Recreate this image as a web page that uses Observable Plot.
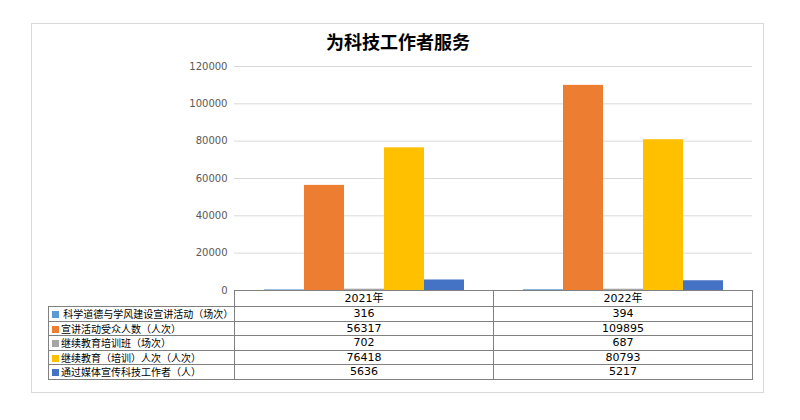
<!DOCTYPE html>
<html>
<head>
<meta charset="utf-8">
<script src="https://cdn.jsdelivr.net/npm/d3@7"></script>
<script src="https://cdn.jsdelivr.net/npm/@observablehq/plot@0.6"></script>
<style>
  html, body { margin: 0; padding: 0; background: #fff; }
  body { width: 800px; height: 420px; position: relative; overflow: hidden; font-family: "DejaVu Sans", "Noto Sans CJK SC", sans-serif; }
  #frame { position: absolute; left: 31px; top: 23px; width: 731px; height: 368px; border: 1px solid #d9d9d9; }
  #title { position: absolute; left: 0; width: 796px; top: 28px; text-align: center; font: bold 18px "Noto Sans CJK SC", sans-serif; color: #000; }
  #chart { position: absolute; left: 0; top: 0; }
  #tbl { position: absolute; left: 48px; top: 290px; width: 704px; border-collapse: collapse; table-layout: fixed; font-size: 11px; color: #000; }
  #tbl td { border: 1px solid #808080; padding: 0; text-align: center; line-height: 13px; white-space: nowrap; overflow: hidden; font-family: "DejaVu Sans", "Noto Sans CJK SC", sans-serif; }
  #tbl td.lab { text-align: left; font-family: "Noto Sans CJK SC", sans-serif; font-size: 10px; padding-left: 3px; }
  #tbl td.blank { border-top: none; border-left: none; }
  .sw { display: inline-block; width: 7px; height: 7px; margin-right: 2px; vertical-align: 0px; }
</style>
</head>
<body>
<div id="frame"></div>
<div id="title">为科技工作者服务</div>
<div id="chart"></div>
<table id="tbl"></table>
<script>
const years = ["2021年", "2022年"];
const seriesNames = [
  " 科学道德与学风建设宣讲活动（场次）",
  "宣讲活动受众人数（人次）",
  "继续教育培训班（场次）",
  "继续教育（培训）人次（人次）",
  "通过媒体宣传科技工作者（人）"
];
const values2021 = [316, 56317, 702, 76418, 5636];
const values2022 = [394, 109895, 687, 80793, 5217];
const colors = ["#5B9BD5", "#ED7D31", "#A5A5A5", "#FFC000", "#4472C4"];
const yTicks = [0, 20000, 40000, 60000, 80000, 100000, 120000];

const valuesByYear = [values2021, values2022];
const data = [];
years.forEach((yr, i) => seriesNames.forEach((s, j) => data.push({year: yr, series: s, value: valuesByYear[i][j]})));

const plot = Plot.plot({
  width: 800,
  height: 300,
  marginLeft: 234,
  marginRight: 48,
  marginTop: 66,
  marginBottom: 10,
  style: {fontFamily: "DejaVu Sans, sans-serif", fontSize: "10px", background: "transparent"},
  fx: {domain: years, paddingInner: 0, paddingOuter: 0, axis: null, label: null},
  x: {domain: seriesNames, paddingInner: 0, paddingOuter: 0.73, axis: null, label: null},
  y: {domain: [0, 120000], axis: null},
  color: {domain: seriesNames, range: colors},
  marks: [
    Plot.gridY(yTicks, {stroke: "#d9d9d9", strokeOpacity: 1}),
    Plot.barY(data, {fx: "year", x: "series", y: "value", fill: "series", inset: 0}),
    Plot.axisY(yTicks, {tickSize: 0, tickPadding: 7, tickFormat: d => String(d), fill: "#595959", fontSize: 10, label: null})
  ]
});
document.getElementById("chart").appendChild(plot);

// data table
const tbl = document.getElementById("tbl");
const colWidths = [186, 259, 259];
const cg = document.createElement("colgroup");
colWidths.forEach(w => { const c = document.createElement("col"); c.style.width = w + "px"; cg.appendChild(c); });
tbl.appendChild(cg);
const hr = document.createElement("tr");
hr.style.height = "16px";
const blank = document.createElement("td"); blank.className = "blank"; hr.appendChild(blank);
years.forEach(y => { const td = document.createElement("td"); td.textContent = y; hr.appendChild(td); });
tbl.appendChild(hr);
seriesNames.forEach((s, j) => {
  const tr = document.createElement("tr");
  tr.style.height = "14.5px";
  const lab = document.createElement("td"); lab.className = "lab";
  const sw = document.createElement("span"); sw.className = "sw"; sw.style.background = colors[j];
  lab.appendChild(sw);
  lab.appendChild(document.createTextNode(s));
  tr.appendChild(lab);
  valuesByYear.forEach(vals => { const td = document.createElement("td"); td.textContent = String(vals[j]); tr.appendChild(td); });
  tbl.appendChild(tr);
});
</script>
</body>
</html>
